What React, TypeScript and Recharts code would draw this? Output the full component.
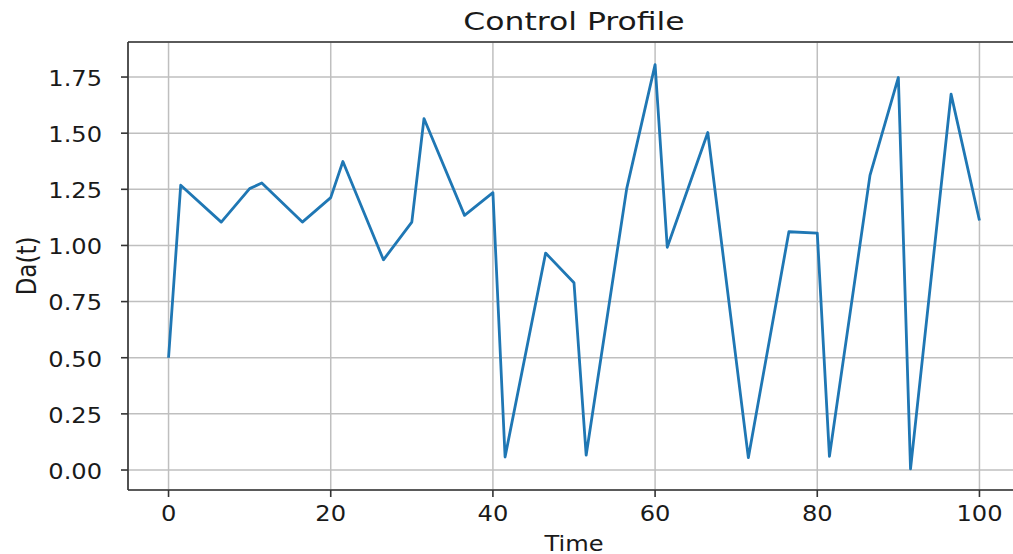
import React from "react";
import { LineChart, Line, XAxis, YAxis, CartesianGrid, Label, ReferenceLine } from "recharts";

// Control Profile – Da(t) over time

const TIME = [
  0, 1.5, 6.5, 10, 11.5, 16.5, 20, 21.5, 26.5, 30, 31.5, 36.5, 40, 41.5, 46.5,
  50, 51.5, 56.5, 60, 61.5, 66.5, 71.5, 76.5, 80, 81.5, 86.5, 90, 91.5, 96.5, 100,
];
const DA = [
  0.5, 1.268, 1.104, 1.253, 1.278, 1.104, 1.213, 1.374, 0.936, 1.104, 1.565,
  1.134, 1.235, 0.058, 0.966, 0.834, 0.066, 1.253, 1.805, 0.992, 1.503, 0.055,
  1.061, 1.055, 0.061, 1.312, 1.748, 0.005, 1.674, 1.111,
];
const X_TICKS = [0, 20, 40, 60, 80, 100];
const Y_TICKS = [0, 0.25, 0.5, 0.75, 1.0, 1.25, 1.5, 1.75];
const X_DOMAIN = [-5, 105];
const Y_DOMAIN = [-0.089, 1.906];

const data = TIME.map((t, i) => ({ time: t, da: DA[i] }));

const FONT = "DejaVu Sans";
const INK = "#1a1a1a";
const SPINE = { stroke: "#333333", strokeWidth: 1.6 };

const YTick = (props: any) => {
  const { x, y, payload } = props;
  return (
    <g transform={`translate(${x},${y})`}>
      <text textAnchor="end" dy="0.42em" transform="scale(1.15,1)" fontSize={21} fontFamily={FONT} fill={INK}>
        {Number(payload.value).toFixed(2)}
      </text>
    </g>
  );
};

const XTick = (props: any) => {
  const { x, y, payload } = props;
  return (
    <g transform={`translate(${x},${y})`}>
      <text textAnchor="middle" dy="0.73em" transform="scale(1.15,1)" fontSize={21} fontFamily={FONT} fill={INK}>
        {payload.value}
      </text>
    </g>
  );
};

const xLabel = (p: any) => {
  const vb = p.viewBox;
  return (
    <g transform={`translate(${vb.x + vb.width / 2},${vb.y + 60.5})`}>
      <text textAnchor="middle" transform="scale(1.15,1)" fontSize={21} fontFamily={FONT} fill={INK}>
        Time
      </text>
    </g>
  );
};

const yLabel = (p: any) => {
  const vb = p.viewBox;
  return (
    <text
      textAnchor="middle"
      transform={`translate(${vb.x + 35.5},${vb.y + vb.height / 2}) rotate(-90) scale(1,1.15)`}
      fontSize={23}
      fontFamily={FONT}
      fill={INK}
    >
      Da(t)
    </text>
  );
};

export default function App() {
  return (
    <div style={{ position: "absolute", left: 0, top: 0, width: 1013, height: 554, overflow: "hidden", background: "#fff" }}>
      <div
        style={{
          position: "absolute",
          left: 274,
          width: 600,
          top: 10,
          textAlign: "center",
          fontFamily: FONT,
          fontSize: 24,
          lineHeight: "24px",
          color: INK,
          transform: "scaleX(1.31)",
        }}
      >
        Control Profile
      </div>
      <LineChart width={1021} height={554} data={data} margin={{ top: 42, right: 1, bottom: 0, left: 0 }}>
        <CartesianGrid stroke="#bfbfbf" strokeWidth={1.5} />
        <XAxis
          dataKey="time"
          type="number"
          domain={X_DOMAIN}
          allowDataOverflow
          ticks={X_TICKS}
          height={64}
          tickSize={7}
          tickMargin={9}
          tick={XTick}
          axisLine={SPINE}
          tickLine={SPINE}
          label={<Label content={xLabel} />}
        />
        <YAxis
          type="number"
          domain={Y_DOMAIN}
          allowDataOverflow
          ticks={Y_TICKS}
          width={128}
          tickSize={7}
          tickMargin={19}
          tick={YTick}
          axisLine={SPINE}
          tickLine={SPINE}
          label={<Label content={yLabel} />}
        />
        {/* top spine of the frame */}
        <ReferenceLine y={Y_DOMAIN[1]} stroke="#333333" strokeWidth={1.6} ifOverflow="visible" />
        <Line
          type="linear"
          dataKey="da"
          stroke="#1f77b4"
          strokeWidth={2.8}
          strokeLinejoin="round"
          dot={false}
          activeDot={false}
          isAnimationActive={false}
        />
      </LineChart>
    </div>
  );
}
